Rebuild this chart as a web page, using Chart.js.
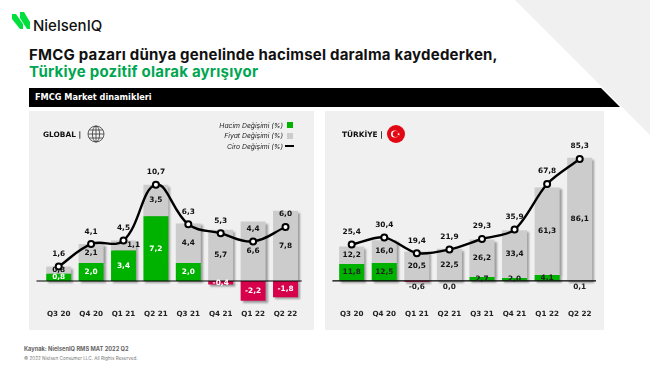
<!DOCTYPE html>
<html lang="tr">
<head>
<meta charset="utf-8">
<title>FMCG Market dinamikleri</title>
<script src="https://cdn.jsdelivr.net/npm/chart.js@4"></script>
<style>
    html, body { margin: 0; padding: 0; background: #fff; }
    body { width: 650px; height: 365px; position: relative; overflow: hidden; font-family: Inter, sans-serif; color: #111; }
    .abs { position: absolute; white-space: nowrap; }
    .corner { position: absolute; left: 515px; top: 0; width: 135px; height: 135px; background: #f0f0f0; clip-path: polygon(0 0, 100% 0, 100% 100%); }
    .brand { left: 33px; top: 16px; font-size: 15px; font-weight: 500; color: #111; }
    .title { left: 29px; top: 46px; font-size: 15px; font-weight: 700; line-height: 17px; letter-spacing: 0.22px; }
    .title span { color: #00a651; }
    .band { left: 29px; top: 88px; width: 591px; height: 19px; background: #000; color: #fff; font-family: "DejaVu Sans", sans-serif; font-size: 8.2px; font-weight: 700; line-height: 19px; text-indent: 6px; clip-path: polygon(0 0, 572px 0, 100% 100%, 0 100%); }
    .panel { position: absolute; top: 111px; height: 219px; background: #f0f0f0; }
    canvas { position: absolute; left: 0; top: 0; }
    .region { top: 130px; font-family: "DejaVu Sans", sans-serif; font-size: 7.4px; font-weight: 700; }
    .legend { right: 367px; font-size: 6.8px; font-style: italic; color: #222; text-align: right; }
    .swatch { position: absolute; }
    .src { left: 24px; top: 345px; font-size: 5.7px; font-weight: 700; color: #666; }
    .copy { left: 24px; top: 356px; font-size: 4.6px; color: #777; }
</style>
</head>
<body>
<div class="corner"></div>

<svg class="abs" style="left:11px;top:12px" width="20" height="19" viewBox="0 0 20 19">
    <polygon points="1,2 5,2 12,12 12,17 9,17 1,7" fill="#00e03c"/>
    <polygon points="9,0 13,0 19,10 19,17 16,17 9,6" fill="#00e03c"/>
</svg>
<div class="abs brand">NielsenIQ</div>

<div class="abs title">FMCG pazarı dünya genelinde hacimsel daralma kaydederken,<br><span>Türkiye pozitif olarak ayrışıyor</span></div>
<div class="abs band">FMCG Market dinamikleri</div>

<div class="panel" style="left:29px;width:285px"><canvas id="globalChart" width="285" height="219"></canvas></div>
<div class="panel" style="left:325px;width:279px"><canvas id="turkeyChart" width="279" height="219"></canvas></div>

<div class="abs region" style="left:43px">GLOBAL |</div>
<svg class="abs" style="left:87px;top:125px" width="18" height="18" viewBox="0 0 18 18" fill="none" stroke="#222" stroke-width="0.7">
    <circle cx="9" cy="9" r="8"/>
    <ellipse cx="9" cy="9" rx="3.6" ry="8"/>
    <line x1="9" y1="1" x2="9" y2="17"/>
    <line x1="1" y1="9" x2="17" y2="9"/>
    <line x1="2.2" y1="5" x2="15.8" y2="5"/>
    <line x1="2.2" y1="13" x2="15.8" y2="13"/>
</svg>

<div class="abs region" style="left:342px">TÜRKİYE |</div>
<svg class="abs" style="left:387px;top:125px" width="18" height="18" viewBox="0 0 18 18">
    <circle cx="9" cy="9" r="9" fill="#e30613"/>
    <circle cx="7.6" cy="9" r="3.6" fill="#fff"/>
    <circle cx="8.6" cy="9" r="2.9" fill="#e30613"/>
    <polygon points="11.6,7.6 12,8.7 13.2,8.7 12.2,9.4 12.6,10.5 11.6,9.8 10.7,10.5 11,9.4 10.1,8.7 11.2,8.7" fill="#fff"/>
</svg>

<div class="abs legend" style="top:121px">Hacim Değişimi (%)</div>
<div class="abs legend" style="top:131px">Fiyat Değişimi (%)</div>
<div class="abs legend" style="top:142px">Ciro Değişimi (%)</div>
<div class="swatch" style="left:287px;top:122px;width:6px;height:6px;background:#00b200"></div>
<div class="swatch" style="left:287px;top:133px;width:6px;height:6px;background:#ccc"></div>
<div class="swatch" style="left:285px;top:145px;width:9px;height:1.5px;background:#000"></div>

<div class="abs src">Kaynak: NielsenIQ RMS MAT 2022 Q2</div>
<div class="abs copy">© 2022 Nielsen Consumer LLC. All Rights Reserved.</div>

<script>
const quarters = ['Q3 20', 'Q4 20', 'Q1 21', 'Q2 21', 'Q3 21', 'Q4 21', 'Q1 22', 'Q2 22'];

const globalVolume = [0.8, 2.0, 3.4, 7.2, 2.0, -0.4, -2.2, -1.8];
const globalPrice = [0.8, 2.1, 1.1, 3.5, 4.4, 5.7, 6.6, 7.8];
const globalValue = [1.6, 4.1, 4.5, 10.7, 6.3, 5.3, 4.4, 6.0];

const turkeyVolume = [11.8, 12.5, -0.6, 0.0, 2.7, 2.0, 4.1, 0.1];
const turkeyPrice = [12.2, 16.0, 20.5, 22.5, 26.2, 33.4, 61.3, 86.1];
const turkeyValue = [25.4, 30.4, 19.4, 21.9, 29.3, 35.9, 67.8, 85.3];

const labelFont = '"DejaVu Sans", sans-serif';

function formatTr(v) {
    return v.toFixed(1).replace('.', ',');
}

// bar shadows + value labels + zero line, none of which chart.js has built in
const slidePlugin = {
    id: 'slide',
    beforeDatasetDraw(chart, args) {
        const ctx = chart.ctx;
        ctx.save();
        if (chart.getDatasetMeta(args.index).type === 'bar') {
            ctx.shadowColor = 'rgba(0,0,0,0.35)';
            ctx.shadowOffsetX = 2;
            ctx.shadowOffsetY = 2;
            ctx.shadowBlur = 2;
        }
    },
    afterDatasetDraw(chart) {
        chart.ctx.restore();
    },
    afterDatasetsDraw(chart, args, opts) {
        const ctx = chart.ctx;
        const y = chart.scales.y;
        const zero = y.getPixelForValue(0);

        ctx.save();
        ctx.strokeStyle = '#000';
        ctx.lineWidth = 1.2;
        ctx.beginPath();
        ctx.moveTo(chart.chartArea.left - opts.lineOverhang, zero);
        ctx.lineTo(chart.chartArea.right, zero);
        ctx.stroke();

        ctx.font = '700 7.4px ' + labelFont;
        ctx.textAlign = 'center';
        ctx.textBaseline = 'middle';

        chart.data.datasets.forEach((ds, i) => {
            const meta = chart.getDatasetMeta(i);
            meta.data.forEach((el, j) => {
                const v = ds.data[j];
                let px = el.x;
                let py;
                ctx.fillStyle = '#111';
                if (meta.type === 'line') {
                    py = el.y - 12.5;
                } else {
                    const h = Math.abs(el.base - el.y);
                    py = (el.base + el.y) / 2;
                    if (ds.label === 'Hacim') {
                        ctx.fillStyle = opts.volumeLabel;
                        if (h < 2) py = zero + 6;
                    } else if (h < 12 && h > 8) {
                        // the marker sits on this one so it moves aside
                        px += 10;
                    }
                }
                ctx.fillText(formatTr(v), px, py);
            });
        });
        ctx.restore();
    }
};

function makeChart(id, volume, price, value, cfg) {
    return new Chart(document.getElementById(id), {
        type: 'bar',
        plugins: [slidePlugin],
        data: {
            labels: quarters,
            datasets: [
                {
                    type: 'line',
                    label: 'Ciro',
                    data: value,
                    order: 0,
                    clip: false,
                    borderColor: '#000',
                    borderWidth: 2.4,
                    tension: cfg.tension,
                    pointRadius: 3,
                    pointBorderWidth: 2,
                    pointBackgroundColor: '#fff',
                    pointBorderColor: '#000'
                },
                {
                    label: 'Hacim',
                    data: volume,
                    order: 1,
                    backgroundColor: c => c.raw < 0 ? '#d6004b' : '#00b200',
                    barPercentage: 0.77,
                    categoryPercentage: 1
                },
                {
                    label: 'Fiyat',
                    data: price,
                    order: 2,
                    backgroundColor: '#cccccc',
                    barPercentage: 0.77,
                    categoryPercentage: 1
                }
            ]
        },
        options: {
            responsive: false,
            animation: false,
            layout: { padding: cfg.padding },
            plugins: {
                legend: { display: false },
                tooltip: { enabled: false },
                slide: { volumeLabel: cfg.volumeLabel, lineOverhang: cfg.lineOverhang }
            },
            scales: {
                x: {
                    stacked: true,
                    grid: { display: false, drawTicks: false },
                    border: { display: false },
                    ticks: { color: '#222', padding: 2, font: { family: labelFont, size: 7.2, weight: '700' }, maxRotation: 0, autoSkip: false },
                    afterFit(scale) { scale.height = 13; }
                },
                y: {
                    stacked: true,
                    display: false,
                    min: cfg.min,
                    max: cfg.max
                }
            }
        }
    });
}

makeChart('globalChart', globalVolume, globalPrice, globalValue, {
    min: -3, max: 12, tension: 0.4, volumeLabel: '#fff', lineOverhang: 6,
    padding: { left: 13.5, right: 12.3, top: 62, bottom: 9 }
});
makeChart('turkeyChart', turkeyVolume, turkeyPrice, turkeyValue, {
    min: -19, max: 100, tension: 0.3, volumeLabel: '#222', lineOverhang: 3,
    padding: { left: 10.4, right: 8, top: 27, bottom: 9 }
});
</script>
</body>
</html>
